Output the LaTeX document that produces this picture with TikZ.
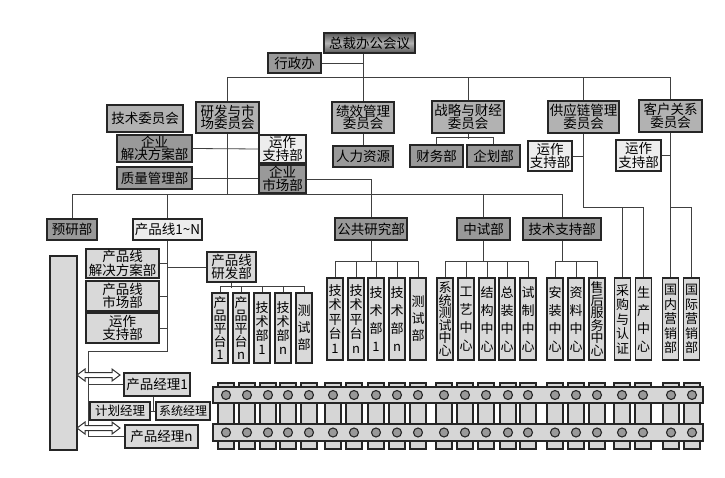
\documentclass[tikz,border=0pt]{standalone}
\usepackage{fontspec}
\setmainfont{Noto Sans CJK SC}
\usetikzlibrary{calc}
\tikzset{
	box/.style={draw=black!85, line width=1.3pt, inner sep=1pt, align=center, font=\fontsize{13.5}{12.5}\selectfont},
	sz/.style 2 args={minimum width=#1pt, minimum height=#2pt},
	dk/.style={box, fill=black!40},
	md/.style={box, fill=black!30},
	lt/.style={box, fill=black!15},
	wt/.style={box, fill=black!7},
	col/.style={lt, inner sep=0pt, minimum width=16pt, minimum height=82pt},
	link/.style={draw=black!75, line width=0.8pt},
	part/.style={draw=black!85, line width=1.1pt, fill=black!16},
}

\begin{document}
\begin{tikzpicture}[x=1pt, y=-1pt]
	\useasboundingbox (0,0) rectangle (725,478);
	% top
	\node[box, top color=black!65, bottom color=black!65, middle color=black!30, sz={91}{20}] (zcb) at (369.5,43) {总裁办公会议};
	\node[dk, sz={53}{20}] (xzb) at (294.5,63) {行政办};
	% committees
	\node[md, sz={76}{27}] (jswyh) at (145,118.5) {技术委员会};
	\node[md, sz={63}{31}] (yfsc) at (227.5,117.5) {研发与市\\场委员会};
	\node[md, sz={62}{31}] (jxgl) at (363,117.5) {绩效管理\\委员会};
	\node[md, sz={72}{32}] (zlcj) at (468,117) {战略与财经\\委员会};
	\node[md, sz={71}{32}] (gyl) at (583.5,117) {供应链管理\\委员会};
	\node[md, sz={63}{32}] (khgx) at (670.5,116) {客户关系\\委员会};
	% departments
	\node[dk, sz={75}{27}] (qyjj) at (154.5,148.5) {企业\\解决方案部};
	\node[wt, sz={47}{28}] (yzzc1) at (282.5,149) {运作\\支持部};
	\node[dk, sz={75}{22}] (zlgl) at (154.5,178) {质量管理部};
	\node[dk, sz={47}{28}] (qysc) at (282.5,179) {企业\\市场部};
	\node[dk, sz={60}{21}] (rlzy) at (363,156.5) {人力资源};
	\node[dk, sz={53}{22}] (cwb) at (436.5,156) {财务部};
	\node[dk, sz={53}{22}] (qhb) at (493.5,156) {企划部};
	\node[wt, sz={44}{30}] (yzzc2) at (550,156) {运作\\支持部};
	\node[wt, sz={45}{31}] (yzzc3) at (638.5,155.5) {运作\\支持部};
	% third level
	\node[dk, sz={50}{21}] (yyb) at (72,229.5) {预研部};
	\node[wt, sz={69}{21}] (cpx) at (167.5,229.5) {产品线1\textasciitilde N};
	\node[dk, sz={72}{22}] (ggyj) at (371,229) {公共研究部};
	\node[dk, sz={53}{22}] (zsb) at (483.5,229) {中试部};
	\node[dk, sz={78}{22}] (jszc) at (562,229) {技术支持部};
	% product line
	\node[lt, sz={27}{194}] (bigbar) at (63.5,353) {};
	\node[lt, sz={73}{29}] (cpxjj) at (122.5,263.5) {产品线\\解决方案部};
	\node[lt, sz={73}{30}] (cpxsc) at (122.5,296) {产品线\\市场部};
	\node[lt, sz={73}{30}] (yzzc4) at (122.5,328) {运作\\支持部};
	\node[lt, sz={49}{30}] (cpxyf) at (231.5,267) {产品线\\研发部};
	\node[lt, sz={66}{23}] (cpjl1) at (157,384.5) {产品经理1};
	\node[lt, sz={60}{18}, font=\fontsize{12.5}{12}\selectfont] (jhjl) at (120,411) {计划经理};
	\node[lt, sz={54}{18}, font=\fontsize{12}{12}\selectfont] (xtjl) at (183,411) {系统经理};
	\node[lt, sz={73}{23}] (cpjln) at (161.5,436.5) {产品经理n};
	% vertical boxes
	\foreach \x/\s/\t [count=\i] in {220/13/{产\\品\\平\\台\\1}, 241/13/{产\\品\\平\\台\\n}, 262/14/{技\\术\\部\\1}, 283/14/{技\\术\\部\\n}, 304/17/{测\\试\\部}}
		\node[col, minimum height=70pt, font=\fontsize{13}{\s}\selectfont] (rd\i) at (\x,328) {\t};
	\foreach \x/\s/\t [count=\i] in {335/14.5/{技\\术\\平\\台\\1}, 356/14.5/{技\\术\\平\\台\\n}, 376/18/{技\\术\\部\\1}, 397/18/{技\\术\\部\\n}, 418/17/{测\\试\\部}}
		\node[col, font=\fontsize{13}{\s}\selectfont] (pa\i) at (\x,319) {\t};
	\foreach \x/\s/\t [count=\i] in {445/12.6/{系\\统\\测\\试\\中\\心}, 466/18/{工\\艺\\中\\心}, 487/18/{结\\构\\中\\心}, 507/18/{总\\装\\中\\心}, 528/18/{试\\制\\中\\心}}
		\node[col, font=\fontsize{13}{\s}\selectfont] (pb\i) at (\x,319) {\t};
	\foreach \x/\s/\t [count=\i] in {555/18/{安\\装\\中\\心}, 576/18/{资\\料\\中\\心}, 597/12.6/{售\\后\\服\\务\\中\\心}}
		\node[col, font=\fontsize{13}{\s}\selectfont] (pc\i) at (\x,319) {\t};
	\foreach \x/\s/\t [count=\i] in {622.5/14.5/{采\\购\\与\\认\\证}, 643.5/18/{生\\产\\中\\心}}
		\node[col, font=\fontsize{13}{\s}\selectfont] (pd\i) at (\x,319) {\t};
	\foreach \x/\s/\t [count=\i] in {670.5/14.5/{国\\内\\营\\销\\部}, 691.5/14.5/{国\\际\\营\\销\\部}}
		\node[col, font=\fontsize{13}{\s}\selectfont] (pe\i) at (\x,319) {\t};
	% top level lines
	\draw[link] (jxgl.north) -- (jxgl.north |- zcb.south);
	\draw[link] (xzb.east) -- (xzb.east -| jxgl.north);
	\coordinate (b1) at (0,77);
	\draw[link] (yfsc.north) |- (b1 -| khgx.north) -- (khgx.north);
	\foreach \n in {zlcj,gyl}
		\draw[link] (\n.north) -- (\n.north |- b1);
	% committees to departments
	\draw[link] (jxgl.south) -- (rlzy.north);
	\draw[link] (zlcj.south) -- ++(0,5);
	\draw[link] (cwb.north) -- ++(0,-7) -| (qhb.north);
	\draw[link] (qyjj.east) -- (yzzc1.west);
	\draw[link] (zlgl.east) -- (zlgl.east -| qysc.west);
	\draw[link] (qysc.east) -| (ggyj.north);
	\draw[link] (yzzc2.east) -- (yzzc2.east -| gyl.south);
	\draw[link] (yzzc3.east) -- (yzzc3.east -| khgx.south);
	\coordinate (b2) at (0,194);
	\draw[link] (yfsc.south) -- (yfsc.south |- b2);
	\draw[link] (yyb.north) |- (b2 -| jszc.north) -- (jszc.north);
	\foreach \n in {cpx,zsb}
		\draw[link] (\n.north) -- (\n.north |- b2);
	% supply chain and customers
	\coordinate (b4) at (0,207);
	\draw[link] (gyl.south) |- (b4 -| pd2.north) -- (pd2.north);
	\draw[link] (pd1.north) -- (pd1.north |- b4);
	\draw[link] (khgx.south) -- (pe1.north);
	\draw[link] (pe2.north) |- (b4 -| pe1.north);
	% column groups
	\coordinate (b3) at (0,261);
	\draw[link] (ggyj.south) -- (ggyj.south |- b3);
	\draw[link] (pa1.north) |- (b3 -| pa5.north) -- (pa5.north);
	\foreach \i in {2,3,4}
		\draw[link] (pa\i.north) -- (pa\i.north |- b3);
	\draw[link] (zsb.south) -- (zsb.south |- b3);
	\draw[link] (pb1.north) |- (b3 -| pb5.north) -- (pb5.north);
	\foreach \i in {2,3,4}
		\draw[link] (pb\i.north) -- (pb\i.north |- b3);
	\draw[link] (jszc.south) -- (jszc.south |- b3);
	\draw[link] (pc1.north) |- (b3 -| pc3.north) -- (pc3.north);
	\draw[link] (pc2.north) -- (pc2.north |- b3);
	% product line
	\coordinate (b5) at (88,351);
	\draw[link] (cpx.south) |- (b5) |- (cpjln.west);
	\draw[link] (b5 |- cpjl1.west) -- (cpjl1.west);
	\foreach \n in {cpxjj,cpxsc,yzzc4}
		\draw[link] (\n.east) -- (\n.east -| cpx.south);
	\draw[link] (cpxyf.west) -- (cpxyf.west -| cpx.south);
	\draw[link] (cpxyf.south) -- ++(0,5);
	\draw[link] (rd1.north) -- ++(0,-6) -| (rd5.north);
	\foreach \i in {2,3,4}
		\draw[link] (rd\i.north) -- ++(0,-6);
	\coordinate (tj) at ($(jhjl.east)!.5!(xtjl.west)$);
	\draw[link] (jhjl.east) -- (xtjl.west);
	\draw[link] (tj) -- (tj |- cpjl1.south);
	% double arrows
	\foreach \ay in {375,428}
		\draw[line width=1pt, draw=black!80, fill=white] (77,\ay) -- ++(8,-6) -- ++(0,3.5) -- ++(27,0) -- ++(0,-3.5) -- ++(8,6) -- ++(-8,6) -- ++(0,-3.5) -- ++(-27,0) -- ++(0,3.5) -- cycle;
	% chain at the bottom
	\foreach \x in {226,247,268,288,309,333,354,376,397,418,444,465,486,508,528,555,576,597,622,643,671,692}
		\draw[part] (\x-8,383) rectangle (\x+8,449);
	\draw[part] (213,387) rectangle (703,403);
	\draw[part] (213,424) rectangle (703,441);
	\foreach \x in {226,247,268,288,309,333,354,376,397,418,444,465,486,508,528,555,576,597,622,643,671,692} {
		\draw[part, fill=black!40] (\x,395) circle (4.5pt);
		\draw[part, fill=black!40] (\x,432.5) circle (4.5pt);
	}
\end{tikzpicture}
\end{document}
